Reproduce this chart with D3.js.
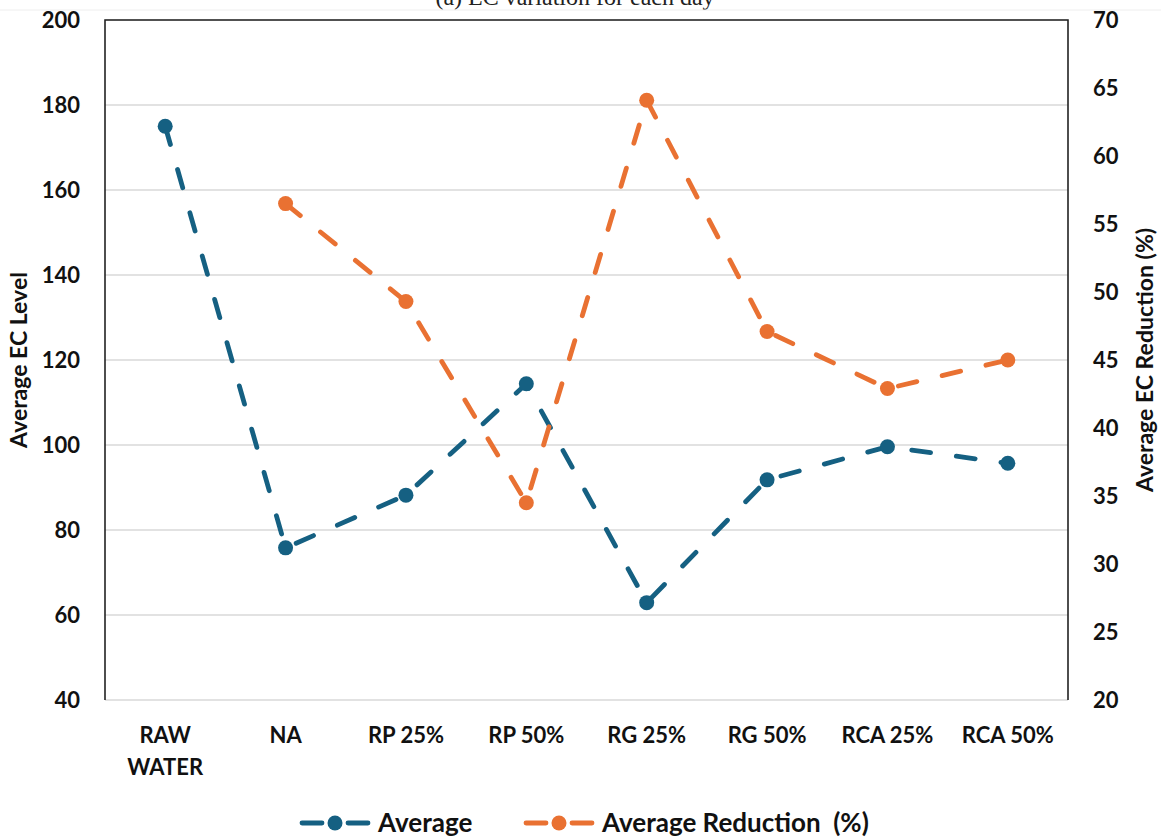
<!DOCTYPE html>
<html>
<head>
<meta charset="utf-8">
<script src="https://cdn.jsdelivr.net/npm/d3@7"></script>
<style>
  body { margin: 0; background: #fff; }
  svg { display: block; }
  .pre { white-space: pre; }
</style>
</head>
<body>
<script>
const categories = ["RAW WATER", "NA", "RP 25%", "RP 50%", "RG 25%", "RG 50%", "RCA 25%", "RCA 50%"];
const averageEC = [175, 75.8, 88.2, 114.4, 62.9, 91.8, 99.6, 95.7];
const averageReduction = [null, 56.5, 49.3, 34.5, 64.1, 47.1, 42.9, 45.0];
const leftTicks = [40, 60, 80, 100, 120, 140, 160, 180, 200];
const rightTicks = [20, 25, 30, 35, 40, 45, 50, 55, 60, 65, 70];
const seriesNames = ["Average", "Average Reduction  (%)"];
const titleText = "(a) EC variation for each day";

const W = 1161, H = 840;
const blue = "#156082", orange = "#E97132";
const font = "Lato, 'Open Sans', sans-serif";
const plot = { left: 105, right: 1068, top: 20, bottom: 700 };

const svg = d3.select("body").append("svg").attr("width", W).attr("height", H);

// title (cut off at top, as in the reference) and rule
svg.append("text").attr("x", 575).attr("y", 5).attr("text-anchor", "middle")
  .attr("font-family", "'Liberation Serif', serif").attr("font-size", 24).attr("fill", "#222")
  .text(titleText);
svg.append("line").attr("x1", 0).attr("x2", W).attr("y1", 10).attr("y2", 10)
  .attr("stroke", "#eee").attr("stroke-width", 1);

const x = d3.scalePoint().domain(categories).range([plot.left, plot.right]).padding(0.5);
const yL = d3.scaleLinear().domain([40, 200]).range([plot.bottom, plot.top]);
const yR = d3.scaleLinear().domain([20, 70]).range([plot.bottom, plot.top]);

// gridlines
svg.append("g").selectAll("line").data(leftTicks).join("line")
  .attr("x1", plot.left).attr("x2", plot.right)
  .attr("y1", d => yL(d)).attr("y2", d => yL(d))
  .attr("stroke", "#d9d9d9").attr("stroke-width", 1.5);

// frame (top, left, right)
svg.append("path")
  .attr("d", `M${plot.left},${plot.bottom}V${plot.top}H${plot.right}V${plot.bottom}`)
  .attr("fill", "none").attr("stroke", "#222").attr("stroke-width", 1.6);

// axes
const axL = svg.append("g").attr("transform", `translate(${plot.left},0)`)
  .call(d3.axisLeft(yL).tickValues(leftTicks).tickSize(0).tickPadding(25));
const axR = svg.append("g").attr("transform", `translate(${plot.right},0)`)
  .call(d3.axisRight(yR).tickValues(rightTicks).tickSize(0).tickPadding(25));
[axL, axR].forEach(a => {
  a.select(".domain").remove();
  a.selectAll("text").attr("font-family", font).attr("font-weight", 700)
    .attr("font-size", 22).attr("fill", "#111");
});

// category labels
const catG = svg.append("g");
categories.forEach(c => {
  const words = c === "RAW WATER" ? ["RAW", "WATER"] : [c];
  const t = catG.append("text").attr("x", x(c)).attr("y", 743)
    .attr("text-anchor", "middle").attr("font-family", font).attr("font-weight", 700)
    .attr("font-size", 22).attr("fill", "#111");
  words.forEach((w, i) => t.append("tspan").attr("x", x(c)).attr("dy", i === 0 ? 0 : 32).text(w));
});

// axis titles
svg.append("text").attr("transform", `translate(27,360) rotate(-90)`).attr("text-anchor", "middle")
  .attr("font-family", font).attr("font-weight", 700).attr("font-size", 23).attr("fill", "#111")
  .text("Average EC Level");
svg.append("text").attr("transform", `translate(1153,360) rotate(-90)`).attr("text-anchor", "middle")
  .attr("font-family", font).attr("font-weight", 700).attr("font-size", 23).attr("fill", "#111")
  .text("Average EC Reduction (%)");

// series
function drawSeries(values, y, color) {
  const pts = categories.map((c, i) => ({ c, v: values[i] })).filter(d => d.v !== null);
  const line = d3.line().x(d => x(d.c)).y(d => y(d.v));
  svg.append("path").datum(pts).attr("d", line)
    .attr("fill", "none").attr("stroke", color).attr("stroke-width", 4.8)
    .attr("stroke-linecap", "round").attr("stroke-dasharray", "19,26");
  svg.append("g").selectAll("circle").data(pts).join("circle")
    .attr("cx", d => x(d.c)).attr("cy", d => y(d.v)).attr("r", 7.5).attr("fill", color);
}
drawSeries(averageEC, yL, blue);
drawSeries(averageReduction, yR, orange);

// legend
const legendItems = [
  { name: seriesNames[0], color: blue, x0: 300 },
  { name: seriesNames[1], color: orange, x0: 524 }
];
legendItems.forEach(it => {
  const g = svg.append("g");
  const ly = 823;
  g.append("line").attr("x1", it.x0 + 2).attr("x2", it.x0 + 22).attr("y1", ly).attr("y2", ly)
    .attr("stroke", it.color).attr("stroke-width", 4.8).attr("stroke-linecap", "round");
  g.append("line").attr("x1", it.x0 + 48).attr("x2", it.x0 + 68).attr("y1", ly).attr("y2", ly)
    .attr("stroke", it.color).attr("stroke-width", 4.8).attr("stroke-linecap", "round");
  g.append("circle").attr("cx", it.x0 + 35).attr("cy", ly).attr("r", 7.5).attr("fill", it.color);
  g.append("text").attr("class", "pre").attr("x", it.x0 + 78).attr("y", ly + 9).attr("font-family", font)
    .attr("font-weight", 700).attr("font-size", 26).attr("fill", "#111").text(it.name);
});
</script>
</body>
</html>
